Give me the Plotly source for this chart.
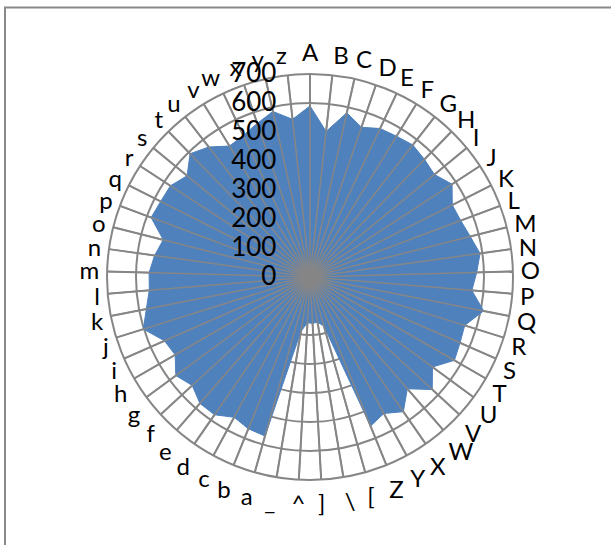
import plotly.graph_objects as go

# Category labels: A-Z, five punctuation marks, a-z
upper = [chr(c) for c in range(ord("A"), ord("Z") + 1)]
punct = ["[", "\\", "]", "^", "_"]
lower = [chr(c) for c in range(ord("a"), ord("z") + 1)]
categories = upper + punct + lower

upper_values = [590, 505, 580, 546, 566, 570, 577, 566, 556, 585,
                550, 555, 570, 592, 575, 560, 610, 559, 565, 575,
                524, 573, 511, 565, 535, 555]
punct_values = [176, 158, 160, 158, 190]
lower_values = [570, 565, 550, 578, 578, 552, 574, 537, 548, 602,
                575, 556, 555, 541, 522, 585, 577, 575, 549, 593,
                568, 530, 540, 560, 585, 547]
values = upper_values + punct_values + lower_values

radial_ticks = [0, 100, 200, 300, 400, 500, 600, 700]
r_max = radial_ticks[-1]

W, H = 611, 545
GRID = "#868686"
FONT = "Lato, 'Open Sans', sans-serif"

fig = go.Figure()

# filled series
fig.add_trace(go.Scatterpolar(
    r=values + values[:1],
    theta=categories + categories[:1],
    mode="lines",
    fill="toself",
    fillcolor="#4F81BD",
    line=dict(color="#4F81BD", width=1),
    hoverinfo="skip",
    showlegend=False,
))

# category spokes drawn over the fill
spoke_r, spoke_t = [], []
for c in categories:
    spoke_r += [0, r_max, None]
    spoke_t += [c, c, None]
fig.add_trace(go.Scatterpolar(
    r=spoke_r, theta=spoke_t, mode="lines",
    line=dict(color=GRID, width=1.5),
    connectgaps=False, hoverinfo="skip", showlegend=False,
))

cx, cy, rad = 310, 277, 203
fig.update_layout(
    width=W, height=H, autosize=False,
    margin=dict(l=0, r=0, t=0, b=0),
    paper_bgcolor="white",
    font=dict(family=FONT, size=24, color="#000000"),
    polar=dict(
        domain=dict(x=[(cx - rad) / W, (cx + rad) / W],
                    y=[1 - (cy + rad) / H, 1 - (cy - rad) / H]),
        bgcolor="white",
        angularaxis=dict(
            rotation=90, direction="clockwise",
            type="category",
            categoryarray=categories,
            showgrid=True, gridcolor=GRID, gridwidth=1.5,
            showline=True, linecolor=GRID, linewidth=2,
            ticks="outside", ticklen=2, tickcolor="rgba(0,0,0,0)",
            tickfont=dict(family=FONT, size=24, color="#000000"),
        ),
        radialaxis=dict(
            range=[0, r_max], tickvals=radial_ticks,
            ticktext=[str(v) for v in radial_ticks],
            angle=90, tickangle=90, side="counterclockwise",
            showgrid=True, gridcolor=GRID, gridwidth=1.5,
            showline=False,
            ticks="outside", ticklen=24, tickcolor="rgba(0,0,0,0)",
            tickfont=dict(family=FONT, size=26, color="#000000"),
            layer="above traces",
        ),
    ),
    shapes=[dict(
        type="rect", xref="paper", yref="paper",
        x0=5 / W, x1=1.05, y0=-0.05, y1=1 - 7.5 / H,
        line=dict(color="#898989", width=2),
        fillcolor="rgba(0,0,0,0)", layer="below",
    )],
)

fig.write_html("out.html")
